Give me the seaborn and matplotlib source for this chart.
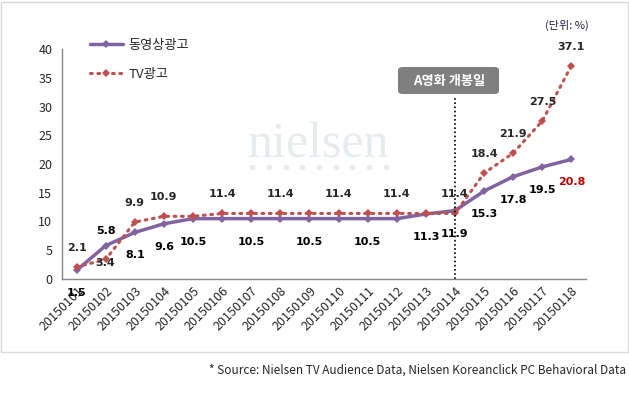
import seaborn as sns
import matplotlib.pyplot as plt
import matplotlib.patches as mpatches
import pandas as pd
import numpy as np

# -----------------------------------------------------------
# Data
# -----------------------------------------------------------
dates = ["201501%02d" % d for d in range(1, 19)]
video_ad = [1.5, 5.8, 8.1, 9.6, 10.5, 10.5, 10.5, 10.5, 10.5,
            10.5, 10.5, 10.5, 11.3, 11.9, 15.3, 17.8, 19.5, 20.8]
tv_ad = [2.1, 3.4, 9.9, 10.9, 10.9, 11.4, 11.4, 11.4, 11.4,
         11.4, 11.4, 11.4, 11.4, 11.4, 18.4, 21.9, 27.5, 37.1]
series_names = ["동영상광고", "TV광고"]
event_idx = 13
event_label = "A영화 개봉일"

# which points carry a value label
video_labeled = [0, 1, 2, 3, 4, 6, 8, 10, 12, 13, 14, 15, 16, 17]
tv_labeled = [0, 1, 2, 3, 5, 7, 9, 11, 13, 14, 15, 16, 17]

# -----------------------------------------------------------
# Styling
# -----------------------------------------------------------
sns.set_style("white")
plt.rcParams["font.family"] = ["Noto Sans CJK KR", "DejaVu Sans"]

purple = "#8064A2"
red = "#C0504D"

fig = plt.figure(figsize=(6.29, 3.95), dpi=100)
ax = fig.add_axes([62 / 629, 1 - 279 / 395, (586 - 62) / 629, (279 - 49) / 395])

x = np.arange(len(dates))
df = pd.DataFrame({"x": x, "video": video_ad, "tv": tv_ad})

sns.lineplot(data=df, x="x", y="video", ax=ax, color=purple, lw=2.5,
             marker="D", markersize=4.5, markeredgewidth=0,
             label=series_names[0])
sns.lineplot(data=df, x="x", y="tv", ax=ax, color=red, lw=2.2,
             marker="D", markersize=4.5, markeredgewidth=0,
             label=series_names[1])
ax.lines[1].set_linestyle((0, (0.6, 1.8)))
ax.lines[1].set_dash_capstyle("round")

ax.set_xlim(-0.5, len(dates) - 0.5)
ax.set_ylim(0, 40)
ax.set_yticks(range(0, 45, 5))
ax.set_xticks(x)
ax.set_xticklabels(dates, rotation=45, ha="right", rotation_mode="anchor")
ax.set_xticks(np.arange(-0.5, len(dates), 1), minor=True)
ax.tick_params(axis="x", which="major", length=0, labelsize=9, pad=4)
ax.tick_params(axis="x", which="minor", length=4, color="#868686", direction="out")
ax.tick_params(axis="y", length=4, color="#868686", direction="out", labelsize=9, pad=3)
ax.set_xlabel("")
ax.set_ylabel("")
for s in ["top", "right"]:
    ax.spines[s].set_visible(False)
for s in ["left", "bottom"]:
    ax.spines[s].set_color("#868686")
    ax.spines[s].set_linewidth(1)

# value labels
lab_kw = dict(textcoords="offset pixels", ha="center", va="center",
              fontsize=8, fontweight="bold", family=["DejaVu Sans"])
for i in video_labeled:
    dy = 15 if i == 1 else -23
    col = "#C00000" if i == len(dates) - 1 else "black"
    ax.annotate(f"{video_ad[i]:.1f}", (x[i], video_ad[i]), xytext=(0, dy),
                color=col, **lab_kw)
for i in tv_labeled:
    dy = -4 if i == 1 else 19
    ax.annotate(f"{tv_ad[i]:.1f}", (x[i], tv_ad[i]), xytext=(0, dy), **lab_kw)

# event marker
ax.vlines(event_idx, 0, 31.8, colors="black", linestyles=(0, (1, 1.5)), lw=1.2)
fig.patches.append(mpatches.FancyBboxPatch(
    (398 / 629, 1 - 94 / 395), 101 / 629, 27 / 395,
    boxstyle="round,pad=0,rounding_size=0.008", transform=fig.transFigure,
    fc="#7F7F7F", ec="none"))
fig.text(449 / 629, 1 - 81 / 395, event_label, ha="center", va="center",
         color="white", fontsize=9.5, fontweight="bold")

# legend
ax.legend(loc="upper left", bbox_to_anchor=(78 / 629, 1 - 27 / 395),
          bbox_transform=fig.transFigure, frameon=False, fontsize=9.5,
          handlelength=2.5, labelspacing=1.2, handletextpad=0.4)

# watermark
fig.text(248 / 629, 1 - 157 / 395, "nielsen", family="Liberation Serif",
         fontsize=36, color="#E6EBEE", ha="left", va="baseline", zorder=0)
dots_x = np.linspace(252 / 629, 386 / 629, 9)
ax.plot(dots_x, [1 - 167 / 395] * 9, "o", ms=3, color="#EAEAEA",
        transform=fig.transFigure, zorder=0, clip_on=False)

fig.text(567 / 629, 1 - 25 / 395, "(단위: %)", ha="center", va="center",
         fontsize=8, color="#202040")

# outer frame + source
fig.patches.append(mpatches.Rectangle((1 / 629, 1 - 352 / 395), 627 / 629, 350 / 395,
                                      transform=fig.transFigure, fill=False,
                                      ec="#D9D9D9", lw=1))
fig.text(626 / 629, 1 - 370 / 395,
         "* Source: Nielsen TV Audience Data, Nielsen Koreanclick PC Behavioral Data",
         ha="right", va="center", fontsize=8.5)

plt.savefig("out.png", dpi=100)
